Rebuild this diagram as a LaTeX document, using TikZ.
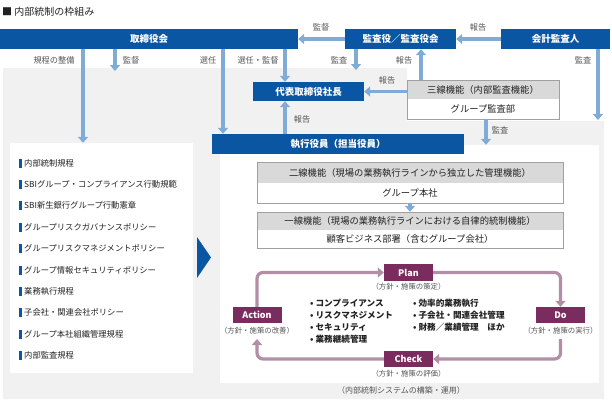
\documentclass[tikz,border=0pt]{standalone}
\usepackage{fontspec}
\setmainfont{Noto Sans CJK JP}
\usetikzlibrary{arrows.meta,calc}
\definecolor{boxblue}{HTML}{0A56A2}
\definecolor{arrblue}{HTML}{80ABD6}
\definecolor{bggray}{HTML}{F1F1F1}
\definecolor{hdrgray}{HTML}{D9D9D9}
\definecolor{bordgray}{HTML}{A0A0A0}
\definecolor{pbox}{HTML}{7B2C5E}
\definecolor{ploopc}{HTML}{B38FA7}
\definecolor{lblgray}{HTML}{555555}
\definecolor{txtdark}{HTML}{222222}
\newcommand{\fs}[1]{\fontsize{#1}{#1}\selectfont}
\tikzset{
  bluebox/.style={fill=boxblue, text=white, inner sep=0pt, font=\fs{9.5}\bfseries},
  hdr/.style={fill=hdrgray, inner sep=0pt, text=txtdark, font=\fs{9.3}},
  bodyb/.style={fill=white, inner sep=0pt, text=txtdark, font=\fs{9.3}},
  barr/.style={draw=arrblue, line width=3.5pt, -{Triangle[width=10pt,length=6pt]}},
  lbl/.style={text=lblgray, inner sep=0pt, font=\fs{8.2}},
  itm/.style={anchor=west, inner sep=0pt, text=txtdark, font=\fs{8.3}},
  pdca/.style={fill=pbox, text=white, inner sep=0pt, minimum width=49pt, minimum height=16pt, font=\fs{9}\bfseries},
  plbl/.style={text=lblgray, inner sep=0pt, font=\fs{7.4}},
  ploop/.style={draw=ploopc, line width=3.2pt, rounded corners=6pt, -{Triangle[width=10pt,length=6pt]}},
  bul/.style={anchor=west, inner sep=0pt, text=txtdark, font=\fs{8.6}\bfseries},
}
\begin{document}
\begin{tikzpicture}[x=1pt,y=-1pt]
\useasboundingbox (0,0) rectangle (612,413);
% background regions
\fill[bggray] (3,68) -- (407,68) -- (407,121) -- (604,121) -- (604,399) -- (3,399) -- cycle;
\node[fill=white, inner sep=0pt, minimum width=183pt, minimum height=230pt] (lpanel) at (101.5,258) {};
\node[fill=white, inner sep=0pt, minimum width=379pt, minimum height=238pt] (rpanel) at (409.5,264) {};
% title
\node[anchor=west, inner sep=0pt, text=txtdark, font=\fs{10}] (title) at (2,12) {■ 内部統制の枠組み};
% blue boxes
\node[bluebox, minimum width=298pt, minimum height=20pt] (tori) at (149,39) {取締役会};
\node[bluebox, minimum width=111pt, minimum height=20pt] (kansa) at (400.5,39) {監査役／監査役会};
\node[bluebox, minimum width=109pt, minimum height=20pt] (kaikei) at (555.5,39) {会計監査人};
\node[bluebox, minimum width=111pt, minimum height=19pt] (daihyo) at (308.5,91.5) {代表取締役社長};
\node[bluebox, minimum width=252pt, minimum height=20pt] (shikko) at (338,144) {執行役員（担当役員）};
% three-line box
\node[hdr, minimum width=152pt, minimum height=19pt] (sanH) at (483,89.5) {三線機能（内部監査機能）};
\node[bodyb, minimum width=152pt, minimum height=20pt] (sanB) at (483,109) {グループ監査部};
\draw[bordgray, line width=0.6pt] (sanH.north west) rectangle (sanB.south east);
% second line
\node[hdr, minimum width=306pt, minimum height=21pt] (niH) at (410,172.5) {二線機能（現場の業務執行ラインから独立した管理機能）};
\node[bodyb, minimum width=306pt, minimum height=20pt] (niB) at (410,193) {グループ本社};
\draw[bordgray, line width=0.6pt] (niH.north west) rectangle (niB.south east);
% first line
\node[hdr, minimum width=306pt, minimum height=18pt] (ichiH) at (410,221) {一線機能（現場の業務執行ラインにおける自律的統制機能）};
\node[bodyb, minimum width=306pt, minimum height=18pt] (ichiB) at (410,239) {顧客ビジネス部署（含むグループ会社）};
\draw[bordgray, line width=0.6pt] (ichiH.north west) rectangle (ichiB.south east);
% x coordinates for connectors
\coordinate (c83) at (83,0);
\coordinate (c115) at (115,0);
\coordinate (c223) at (223,0);
\coordinate (c285) at (285,0);
\coordinate (c356) at (356,0);
\coordinate (c421) at (421,0);
\coordinate (c486) at (486,0);
\coordinate (c598) at (598,0);
\coordinate (e115) at (115,71);
\coordinate (e356) at (356,70);
\coordinate (e598) at (598,120);
% connectors
\draw[barr] (tori.south -| c83) -- (lpanel.north -| c83);
\draw[barr] (tori.south -| c115) -- (e115);
\draw[barr] (tori.south -| c223) -- (shikko.north -| c223);
\draw[barr] (tori.south -| c285) -- (daihyo.north -| c285);
\draw[barr] (kansa.west) -- (tori.east);
\draw[barr] (kaikei.west) -- (kansa.east);
\draw[barr] (kansa.south -| c356) -- (e356);
\draw[barr] (sanH.north -| c421) -- (kansa.south -| c421);
\draw[barr] (sanH.west |- daihyo.east) -- (daihyo.east);
\draw[barr] (kaikei.south -| c598) -- (e598);
\draw[barr] (sanB.south -| c486) -- (rpanel.north -| c486);
\draw[barr] (shikko.north -| c285) -- (daihyo.south -| c285);
\draw[barr] (niB.south) -- (ichiH.north);
% connector labels
\node[lbl] (l1) at (54,60) {規程の整備};
\node[lbl] (l2) at (131,60) {監督};
\node[lbl] (l3) at (208,60) {選任};
\node[lbl] (l4) at (258,60) {選任・監督};
\node[lbl] (l5) at (321,27) {監督};
\node[lbl] (l6) at (478,27) {報告};
\node[lbl] (l7) at (339,60) {監査};
\node[lbl] (l8) at (404,60) {報告};
\node[lbl] (l9) at (387,80) {報告};
\node[lbl] (l10) at (583,60) {監査};
\node[lbl] (l11) at (500,130) {監査};
\node[lbl] (l12) at (302,119) {報告};
% left list
\foreach \t [count=\i] in {内部統制規程, SBIグループ・コンプライアンス行動規範, SBI新生銀行グループ行動憲章, グループリスクガバナンスポリシー, グループリスクマネジメントポリシー, グループ情報セキュリティポリシー, 業務執行規程, 子会社・関連会社ポリシー, グループ本社組織管理規程, 内部監査規程}{
  \pgfmathsetmacro\yy{163+21.4*(\i-1)}
  \node[itm] (li\i) at (24,\yy) {\t};
  \fill[boxblue] ($(li\i.west)+(-5,-4.5)$) rectangle +(2.6,9);
}
% chevron
\fill[boxblue] (197,237) -- (211,257.5) -- (197,278) -- cycle;
% PDCA
\node[pdca, minimum height=17pt] (plan) at (408.5,272.5) {Plan};
\node[plbl] (planl) at (408.5,287) {（方針・施策の策定）};
\node[pdca] (action) at (257,315) {Action};
\node[plbl] (actionl) at (257,331) {（方針・施策の改善）};
\node[pdca] (do) at (560.5,315) {Do};
\node[plbl] (dol) at (560.5,331) {（方針・施策の実行）};
\node[pdca] (check) at (408.5,359) {Check};
\node[plbl] (checkl) at (408.5,374) {（方針・施策の評価）};
\coordinate (dostart) at (560.5,339);
\coordinate (actend) at (257,339);
\draw[ploop] (action.north) |- (plan.west);
\draw[ploop] (plan.east) -| (do.north);
\draw[ploop] (dostart) |- (check.east);
\draw[ploop] (check.west) -| (actend);
% bullets
\node[bul] (b1) at (310,303) {• コンプライアンス};
\node[bul] (b2) at (310,315) {• リスクマネジメント};
\node[bul] (b3) at (310,327) {• セキュリティ};
\node[bul] (b4) at (310,339) {• 業務継続管理};
\node[bul] (b5) at (413,303) {• 効率的業務執行};
\node[bul] (b6) at (413,315) {• 子会社・関連会社管理};
\node[bul] (b7) at (413,327) {• 財務／業績管理　ほか};
% caption
\node[plbl, font=\fs{8}] (cap) at (401,390) {（内部統制システムの構築・運用）};
\end{tikzpicture}
\end{document}
